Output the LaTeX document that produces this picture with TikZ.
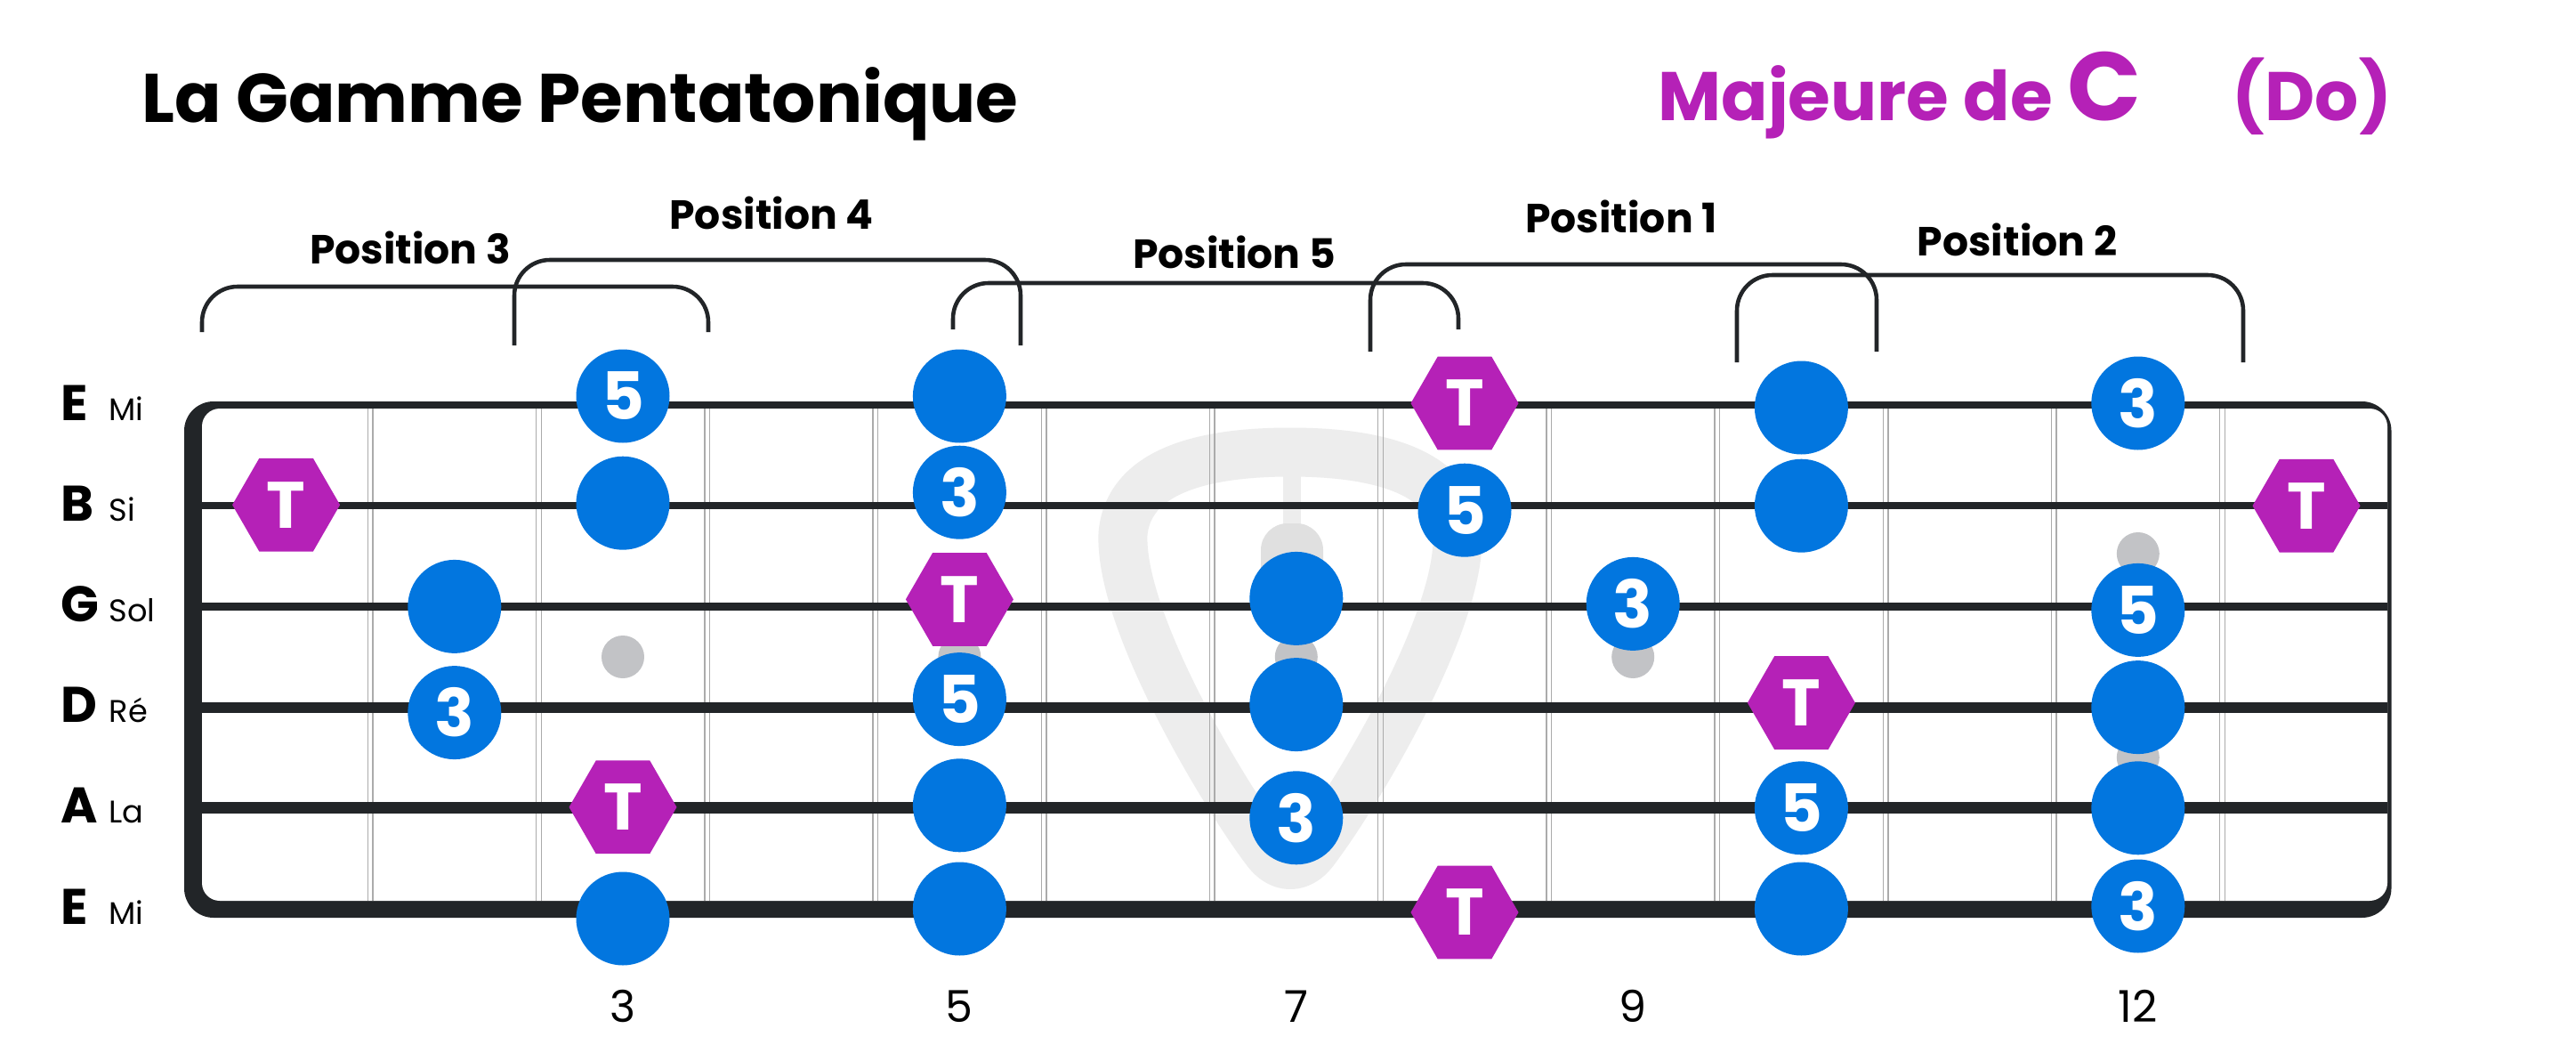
\documentclass[tikz,border=0pt]{standalone}
\usepackage{fontspec}
\setmainfont{Poppins}
\usetikzlibrary{shapes.geometric}
\definecolor{noteblue}{HTML}{0276DF}
\definecolor{rootmag}{HTML}{B521B7}
\definecolor{framedark}{HTML}{222528}
\definecolor{fretgray}{HTML}{ABABAB}
\definecolor{dotgray}{HTML}{C2C3C6}
\definecolor{pickgray}{HTML}{EDEDED}
\definecolor{blobgray}{HTML}{E0E0E0}

\begin{document}
\begin{tikzpicture}[
    every node/.style={inner sep=0pt},
    note/.style={circle, fill=noteblue, minimum size=1.05cm, text=white,
                 font=\fontsize{21}{21}\selectfont\bfseries},
    root/.style={regular polygon, regular polygon sides=6, fill=rootmag,
                 minimum size=1.21cm, text=white,
                 font=\fontsize{21}{21}\selectfont\bfseries},
    inlay/.style={circle, fill=dotgray, minimum size=0.48cm},
    fret/.style={draw=fretgray, line width=0.4pt},
    bracket/.style={draw=framedark, line width=1.3pt, rounded corners=0.4cm},
    poslabel/.style={font=\fontsize{13}{13}\selectfont\bfseries},
    strletter/.style={anchor=base west, font=\fontsize{16}{16}\selectfont\bfseries},
    strname/.style={anchor=base west, font=\fontsize{10}{10}\selectfont},
    fretnum/.style={anchor=base, font=\fontsize{14}{14}\selectfont},
  ]
  \fill[white] (0,0) rectangle (28.95,11.91);
  \useasboundingbox (0,0) rectangle (28.95,11.91);

  % titles
  \node[anchor=base west, font=\fontsize{22}{22}\selectfont\bfseries] (title) at (1.59,10.54)
    {La Gamme Pentatonique};
  \node[anchor=base west, text=rootmag, font=\fontsize{22}{22}\selectfont\bfseries] (scale) at (18.63,10.56)
    {Majeure de {\fontsize{31}{31}\selectfont C}};
  \node[anchor=base west, text=rootmag, font=\fontsize{22}{22}\selectfont\bfseries] (do) at (25.08,10.56)
    {(Do)};

  % positions
  \foreach \p/\a/\b/\top/\low/\lx/\ly in {3/2.27/7.96/8.69/8.18/4.61/9.13,
      4/5.78/11.47/8.99/8.03/8.67/9.52, 5/10.71/16.39/8.73/8.21/13.87/9.08,
      1/15.40/21.09/8.94/7.96/18.22/9.48, 2/19.52/25.21/8.82/7.84/22.67/9.22} {
    \draw[bracket] (\a,\low) -- (\a,\top) -- (\b,\top) -- (\b,\low);
    \node[poslabel] (pos\p) at (\lx,\ly) {Position \p};
  }

  % neck
  \fill[framedark, rounded corners=0.33cm] (2.07,1.60) rectangle (26.875,7.40);
  \fill[white, rounded corners=0.2cm] (2.27,1.79) rectangle (26.83,7.32);

  % pick
  \draw[pickgray, line width=0.55cm, line join=round]
    (14.50,6.83) .. controls (13.50,6.83) and (12.68,6.61) .. (12.62,5.91)
    .. controls (12.58,4.91) and (13.80,2.91) .. (14.25,2.33)
    .. controls (14.40,2.15) and (14.60,2.15) .. (14.75,2.33)
    .. controls (15.20,2.91) and (16.42,4.91) .. (16.38,5.91)
    .. controls (16.32,6.61) and (15.50,6.83) .. (14.50,6.83) -- cycle;
  \fill[pickgray] (14.42,6.60) rectangle (14.62,5.90);
  \fill[blobgray, rounded corners=0.3cm] (14.17,6.03) rectangle (14.87,5.11);

  \foreach \n in {1,...,12} {
    \draw[fret] ({2.27+\n*1.892-0.028},1.79) -- ++(0,5.53);
    \draw[fret] ({2.27+\n*1.892+0.028},1.79) -- ++(0,5.53);
  }

  \foreach \s/\w in {2/2.3pt, 3/2.7pt, 4/3.4pt, 5/3.8pt}
    \draw[framedark, line width=\w] (2.27,{7.36-(\s-1)*1.132}) -- (26.83,{7.36-(\s-1)*1.132});

  \foreach \f/\y in {3/4.53, 5/4.53, 7/4.53, 9/4.53, 12/5.69, 12/3.40}
    \node[inlay] (dot\f-\y) at ({2.27+(\f-0.5)*1.892},\y) {};

  % string names
  \foreach \s/\l/\n in {1/E/Mi, 2/B/Si, 3/G/Sol, 4/D/Ré, 5/A/La, 6/E/Mi} {
    \node[strletter] (l\s) at (0.68,{7.36-(\s-1)*1.132-0.17}) {\l};
    \node[strname] (m\s) at (1.22,{7.36-(\s-1)*1.132-0.17}) {\n};
  }

  \foreach \f in {3,5,7,9,12}
    \node[fretnum] (f\f) at ({2.27+(\f-0.5)*1.892},0.43) {\f};

  % notes
  \foreach \s/\f/\lab/\dy in {1/3/5/0.10, 1/5//0.10, 1/10//-0.03, 1/12/3/0.02,
      2/3//0.03, 2/5/3/0.15, 2/8/5/-0.05, 2/10//0,
      3/2//0, 3/7//0.09, 3/9/3/0.03, 3/12/5/-0.04,
      4/2/3/-0.06, 4/5/5/0.09, 4/7//0.03, 4/12//0,
      5/5//0.03, 5/7/3/-0.11, 5/10/5/0, 5/12//0,
      6/3//-0.11, 6/5//0, 6/10//0, 6/12/3/0.03}
    \node[note] (n\s-\f) at ({2.27+(\f-0.5)*1.892},{7.36-(\s-1)*1.132+(\dy)}) {\lab};

  \foreach \s/\f/\dy in {2/1/0.01, 3/5/0.08, 5/3/0.01, 1/8/0.02, 6/8/-0.04, 4/10/0.05, 2/13/0}
    \node[root] (t\s-\f) at ({2.27+(\f-0.5)*1.892},{7.36-(\s-1)*1.132+(\dy)}) {T};
\end{tikzpicture}
\end{document}
